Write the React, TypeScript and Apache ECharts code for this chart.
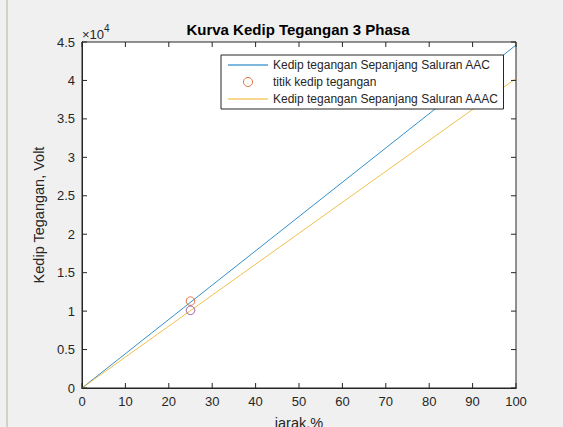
import React, { useEffect, useRef } from "react";
import * as echarts from "echarts";

const jarakAAC = [0, 100];
const teganganAAC = [0, 44600];
const jarakAAAC = [0, 100];
const teganganAAAC = [0, 40250];
const titikAAC = [[25, 11300]];
const titikAAAC = [[25, 10100]];
const xTicks = [0, 10, 20, 30, 40, 50, 60, 70, 80, 90, 100];
const yTicks = [0, 0.5, 1, 1.5, 2, 2.5, 3, 3.5, 4, 4.5];

const seriesNames = [
  "Kedip tegangan Sepanjang Saluran AAC",
  "titik kedip tegangan",
  "Kedip tegangan Sepanjang Saluran AAAC",
];

const FONT = "Liberation Sans, Arial, Helvetica, sans-serif";
const TXT = "#262626";
const X_MIN = 0;
const X_MAX = 100;
const Y_MIN = 0;
const Y_MAX = 45000;
const TICK = 5;

export default function App() {
  const ref = useRef<HTMLDivElement>(null);
  useEffect(() => {
    if (!ref.current) return;
    const chart = echarts.init(ref.current, undefined, { renderer: "svg" });
    const axisCommon = {
      type: "value" as const,
      axisLine: { show: true, lineStyle: { color: TXT, width: 1 } },
      axisTick: { show: false },
      splitLine: { show: false },
    };
    const tickStyle = { stroke: TXT, lineWidth: 1 };
    chart.setOption({
      animation: false,
      backgroundColor: "#f0f0f0",
      textStyle: { fontFamily: FONT },
      title: {
        text: "Kurva Kedip Tegangan 3 Phasa",
        left: 298,
        textAlign: "center",
        top: 22,
        padding: 0,
        textStyle: { fontSize: 15, fontWeight: "bold", color: "#000", fontFamily: FONT },
      },
      grid: {
        left: 82,
        right: 47,
        top: 42,
        bottom: 39,
        containLabel: false,
        outerBoundsMode: "none",
        show: true,
        backgroundColor: "#ffffff",
        borderColor: TXT,
        borderWidth: 1,
      },
      xAxis: [
        {
          ...axisCommon,
          min: X_MIN,
          max: X_MAX,
          interval: 10,
          name: "jarak,%",
          nameLocation: "middle",
          nameGap: 27,
          nameTextStyle: { fontSize: 14.5, color: TXT, fontFamily: FONT },
          axisLabel: {
            fontSize: 13,
            color: TXT,
            margin: 7,
            fontFamily: FONT,
            formatter: (v: number) => (xTicks.includes(v) ? String(v) : ""),
          },
        },
        {
          ...axisCommon,
          position: "top",
          min: X_MIN,
          max: X_MAX,
          interval: 10,
          axisLabel: { show: false },
        },
      ],
      yAxis: [
        {
          ...axisCommon,
          min: Y_MIN,
          max: Y_MAX,
          interval: 5000,
          name: "Kedip Tegangan, Volt",
          nameLocation: "middle",
          nameGap: 32,
          nameTextStyle: { fontSize: 14.5, color: TXT, fontFamily: FONT },
          axisLabel: {
            fontSize: 13,
            color: TXT,
            margin: 7,
            fontFamily: FONT,
            formatter: (v: number) => {
              const t = v / 10000;
              return yTicks.includes(t) ? String(t) : "";
            },
          },
        },
        {
          ...axisCommon,
          position: "right",
          min: Y_MIN,
          max: Y_MAX,
          interval: 5000,
          axisLabel: { show: false },
        },
      ],
      legend: {
        show: true,
        left: 221,
        top: 55,
        orient: "vertical",
        backgroundColor: "#ffffff",
        borderColor: "#262626",
        borderWidth: 1,
        borderRadius: 0,
        padding: [3, 5, 3, 7],
        itemGap: 3,
        itemWidth: 40,
        itemHeight: 9,
        textStyle: { fontSize: 12, lineHeight: 14, color: TXT, fontFamily: FONT },
        data: [
          { name: seriesNames[0], icon: "path://M0,4L40,4L40,4.8L0,4.8Z" },
          {
            name: seriesNames[1],
            icon: "circle",
            itemStyle: { color: "rgba(255,255,255,0)", borderColor: "#D95319", borderWidth: 1 },
          },
          { name: seriesNames[2], icon: "path://M0,4L40,4L40,4.8L0,4.8Z" },
        ],
      },
      series: [
        {
          name: seriesNames[0],
          type: "line",
          data: jarakAAC.map((x, i) => [x, teganganAAC[i]]),
          showSymbol: false,
          symbol: "none",
          lineStyle: { color: "#0072BD", width: 0.8 },
          itemStyle: { color: "#0072BD" },
          z: 3,
        },
        {
          name: seriesNames[1],
          type: "scatter",
          data: titikAAC,
          symbol: "circle",
          symbolSize: 8.5,
          itemStyle: { color: "rgba(255,255,255,0)", borderColor: "#D95319", borderWidth: 1 },
          z: 5,
        },
        {
          name: seriesNames[2],
          type: "line",
          data: jarakAAAC.map((x, i) => [x, teganganAAAC[i]]),
          showSymbol: false,
          symbol: "none",
          lineStyle: { color: "#EDB120", width: 0.8 },
          itemStyle: { color: "#EDB120" },
          z: 3,
        },
        {
          name: "titik AAAC",
          type: "scatter",
          data: titikAAAC,
          symbol: "circle",
          symbolSize: 8.5,
          itemStyle: { color: "rgba(255,255,255,0)", borderColor: "#7E2F8E", borderWidth: 1 },
          z: 5,
        },
        {
          name: "xTicks",
          type: "custom",
          silent: true,
          data: xTicks.map((v) => [v]),
          encode: { x: 0 },
          renderItem: (params: any, api: any) => {
            const v = api.value(0);
            const b = api.coord([v, Y_MIN]);
            const t = api.coord([v, Y_MAX]);
            return {
              type: "group",
              children: [
                { type: "line", shape: { x1: b[0], y1: b[1], x2: b[0], y2: b[1] - TICK }, style: tickStyle },
                { type: "line", shape: { x1: t[0], y1: t[1], x2: t[0], y2: t[1] + TICK }, style: tickStyle },
              ],
            };
          },
          z: 6,
        },
        {
          name: "yTicks",
          type: "custom",
          silent: true,
          data: yTicks.map((v) => [X_MIN, v * 10000]),
          encode: { x: 0, y: 1 },
          renderItem: (params: any, api: any) => {
            const v = api.value(1);
            const l = api.coord([X_MIN, v]);
            const r = api.coord([X_MAX, v]);
            return {
              type: "group",
              children: [
                { type: "line", shape: { x1: l[0], y1: l[1], x2: l[0] + TICK, y2: l[1] }, style: tickStyle },
                { type: "line", shape: { x1: r[0], y1: r[1], x2: r[0] - TICK, y2: r[1] }, style: tickStyle },
              ],
            };
          },
          z: 6,
        },
      ],
      graphic: [
        { type: "rect", shape: { x: 6, y: 0, width: 2, height: 427 }, style: { fill: "#d5d0c5" } },
        {
          type: "text",
          x: 82,
          y: 23,
          style: {
            text: "{a|×10}{b|4}",
            fontFamily: FONT,
            rich: {
              a: { fontSize: 13, fill: TXT, fontFamily: FONT, verticalAlign: "bottom" },
              b: { fontSize: 10, fill: TXT, fontFamily: FONT, verticalAlign: "top", padding: [0, 0, 8, 0] },
            },
          },
        },
      ],
    });
    return () => chart.dispose();
  }, []);
  return <div ref={ref} style={{ position: "absolute", left: 0, top: 0, width: 563, height: 427 }} />;
}
